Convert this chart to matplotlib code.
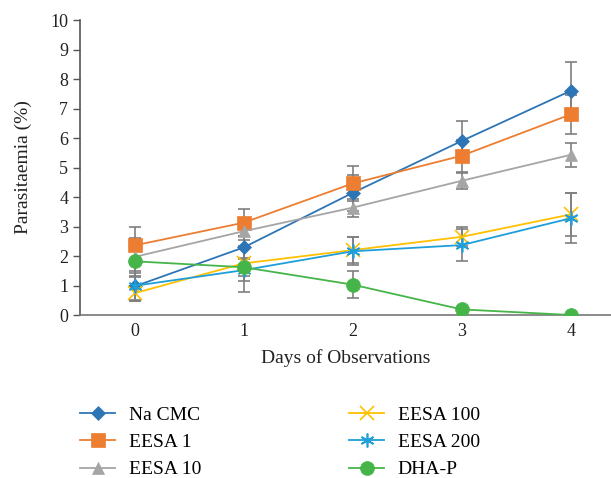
import matplotlib
matplotlib.use("Agg")
import matplotlib.pyplot as plt
import numpy as np

plt.rcParams["font.family"] = ["Liberation Serif", "DejaVu Serif"]

days = [0, 1, 2, 3, 4]
day_labels = ["0", "1", "2", "3", "4"]

series_names = ["Na CMC", "EESA 1", "EESA 10", "EESA 100", "EESA 200", "DHA-P"]
na_cmc = [0.97, 2.29, 4.14, 5.90, 7.60]
eesa_1 = [2.36, 3.13, 4.46, 5.40, 6.80]
eesa_10 = [1.97, 2.84, 3.64, 4.55, 5.43]
eesa_100 = [0.74, 1.75, 2.20, 2.65, 3.41]
eesa_200 = [0.99, 1.52, 2.16, 2.37, 3.28]
dha_p = [1.82, 1.62, 1.03, 0.19, 0.0]

na_cmc_err = [0.45, 0.38, 0.62, 0.68, 0.97]
eesa_1_err = [0.64, 0.46, 0.60, 0.55, 0.66]
eesa_10_err = [0.65, 0.30, 0.31, 0.27, 0.40]
eesa_100_err = [0.25, 0.60, 0.45, 0.32, 0.73]
eesa_200_err = [0.50, 0.74, 0.48, 0.53, 0.84]
dha_p_err = [0.53, 0.30, 0.47, 0.0, 0.0]

values = [na_cmc, eesa_1, eesa_10, eesa_100, eesa_200, dha_p]
errors = [na_cmc_err, eesa_1_err, eesa_10_err, eesa_100_err, eesa_200_err, dha_p_err]
colors = ["#2E75B6", "#ED7D31", "#A5A5A5", "#FFC000", "#1E9FDA", "#46B549"]
markers = ["D", "s", "^", "x", (6, 2, 0), "o"]
msizes = [7, 10, 9, 10, 10, 10]

fig = plt.figure(figsize=(6.11, 4.78), dpi=100)
ax = fig.add_axes([0.131, 0.341, 0.869, 0.617])

# error bars first (gray, behind the lines)
for vals, err in zip(values, errors):
    ax.errorbar(days, vals, yerr=err, fmt="none", ecolor="#7F7F7F",
                elinewidth=1.2, capsize=4.5, capthick=1.2, zorder=1)

handles = []
for name, vals, c, m, ms in zip(series_names, values, colors, markers, msizes):
    thin = m in ("x", (6, 2, 0))
    h, = ax.plot(days, vals, color=c, lw=1.3, marker=m, markersize=ms,
                 markeredgewidth=1.2 if thin else 0.5,
                 markeredgecolor=c, label=name, zorder=3)
    handles.append(h)

ax.set_xlim(-0.5, 4.37)
ax.set_ylim(0, 10)
ax.set_yticks(range(0, 11))
ax.set_xticks(days)
ax.set_xticklabels(day_labels)
ax.tick_params(axis="x", length=0, labelsize=13, pad=6, colors="#222222")
ax.tick_params(axis="y", length=5, width=1, labelsize=13, colors="#222222")
ax.tick_params(axis="y", color="#555555")
for s in ("top", "right"):
    ax.spines[s].set_visible(False)
ax.spines["left"].set_color("#555555")
ax.spines["bottom"].set_color("#777777")
ax.spines["left"].set_linewidth(1.2)
ax.spines["bottom"].set_linewidth(1.2)

ax.set_xlabel("Days of Observations", fontsize=14, color="#222222", labelpad=6)
ax.set_ylabel("Parasitaemia (%)", fontsize=14, color="#222222", labelpad=13)

fig.legend(handles, series_names,
           ncol=2, loc="upper left", bbox_to_anchor=(0.103, 0.187),
           frameon=False, fontsize=14, handlelength=1.8, columnspacing=7.6,
           labelspacing=0.5, handletextpad=0.7)

fig.savefig("out.png", dpi=100)
